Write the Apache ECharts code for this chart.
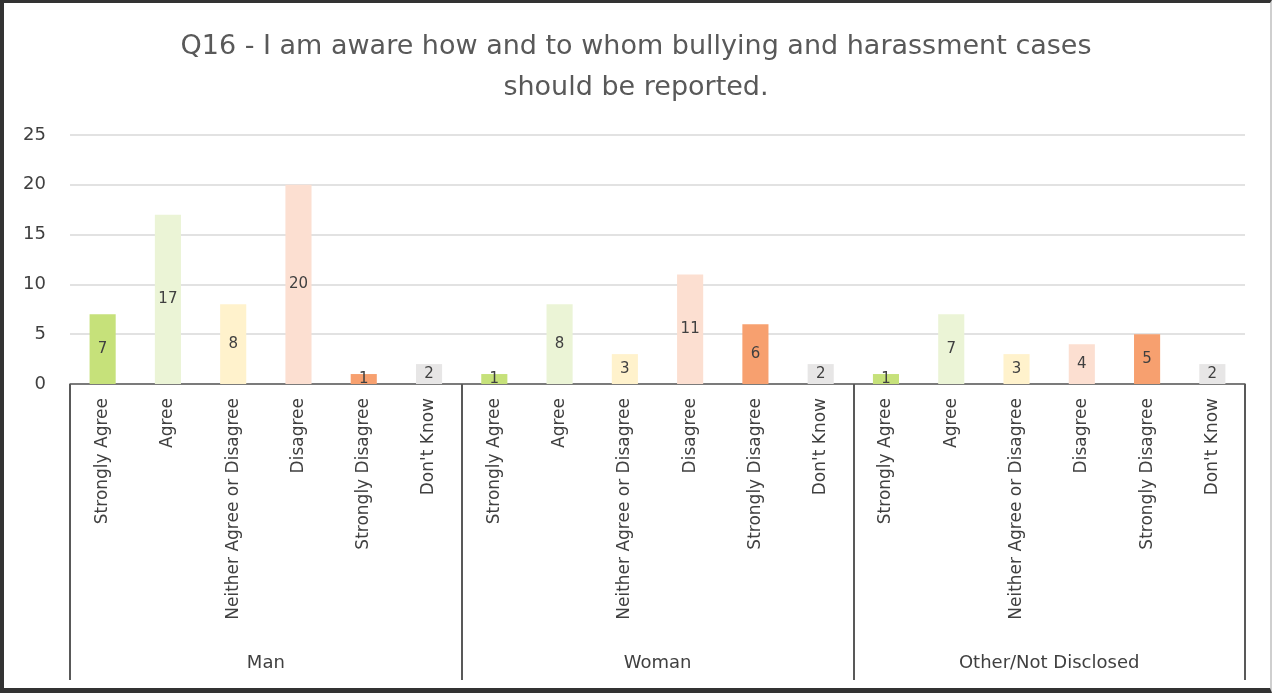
<!DOCTYPE html>
<html>
<head>
<meta charset="utf-8">
<script src="https://cdn.jsdelivr.net/npm/echarts@6/dist/echarts.min.js"></script>
<style>
  html, body { margin: 0; padding: 0; background: #fff; }
  #chart { position: absolute; left: 0; top: 0; width: 1272px; height: 693px; }
  #frame {
    position: absolute; left: 0; top: 0; width: 1272px; height: 693px; box-sizing: border-box;
    border-top: 3px solid #333; border-left: 4px solid #333; border-bottom: 5px solid #333;
    border-right: 2px solid #cfcfcf; pointer-events: none;
  }
</style>
</head>
<body>
<div id="chart"></div>
<div id="frame"></div>
<script>
// Response categories, repeated inside each respondent group
const responses = ['Strongly Agree', 'Agree', 'Neither Agree or Disagree', 'Disagree', 'Strongly Disagree', "Don't Know"];
const groups = ['Man', 'Woman', 'Other/Not Disclosed'];
const responseColors = ['#c6e17a', '#ebf4d6', '#fff2cc', '#fcdfd1', '#f7a06f', '#e7e6e6'];

// Counts per group, in the order of `responses`
const manCounts = [7, 17, 8, 20, 1, 2];
const womanCounts = [1, 8, 3, 11, 6, 2];
const otherCounts = [1, 7, 3, 4, 5, 2];

const yTicks = { min: 0, max: 25, interval: 5 };

const groupCounts = [manCounts, womanCounts, otherCounts];
const categories = [];
const barData = [];
groupCounts.forEach((counts) => {
  counts.forEach((v, i) => {
    categories.push(responses[i]);
    barData.push({ value: v, itemStyle: { color: responseColors[i] } });
  });
});

const FONT = 'DejaVu Sans';
const chart = echarts.init(document.getElementById('chart'));
chart.setOption({
  animation: false,
  backgroundColor: '#fff',
  title: {
    text: 'Q16 - I am aware how and to whom bullying and harassment cases\nshould be reported.',
    left: 'center',
    top: 21,
    textStyle: { fontFamily: FONT, fontWeight: 'normal', fontSize: 27, color: '#595959', lineHeight: 41 }
  },
  grid: { left: 70, right: 27, top: 135, bottom: 309 },
  xAxis: [
    {
      type: 'category',
      data: categories,
      axisLine: { lineStyle: { color: '#595959', width: 1.5 } },
      axisTick: { show: false },
      axisLabel: {
        interval: 0, rotate: 90, margin: 14,
        fontFamily: FONT, fontSize: 17, color: '#404040'
      }
    },
    {
      type: 'category',
      data: groups,
      position: 'bottom',
      axisLine: { show: false },
      axisTick: { show: true, length: 296, lineStyle: { color: '#595959', width: 2 } },
      axisLabel: { margin: 270, fontFamily: FONT, fontSize: 18, color: '#404040' }
    }
  ],
  yAxis: {
    type: 'value',
    min: yTicks.min, max: yTicks.max, interval: yTicks.interval,
    axisLine: { show: false },
    axisTick: { show: false },
    axisLabel: { margin: 24, fontFamily: FONT, fontSize: 18, color: '#404040' },
    splitLine: { lineStyle: { color: '#d9d9d9', width: 1.5 } }
  },
  series: [{
    type: 'bar',
    xAxisIndex: 0,
    data: barData,
    barWidth: '40%',
    label: {
      show: true, position: 'inside',
      fontFamily: FONT, fontSize: 15, color: '#404040'
    }
  }]
});
</script>
</body>
</html>
